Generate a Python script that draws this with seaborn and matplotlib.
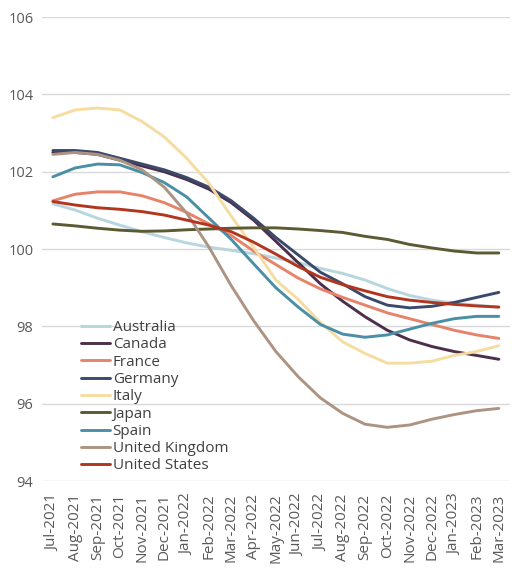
import pandas as pd
import numpy as np
import matplotlib.pyplot as plt
import seaborn as sns

months = ['Jul-2021', 'Aug-2021', 'Sep-2021', 'Oct-2021', 'Nov-2021', 'Dec-2021',
          'Jan-2022', 'Feb-2022', 'Mar-2022', 'Apr-2022', 'May-2022', 'Jun-2022',
          'Jul-2022', 'Aug-2022', 'Sep-2022', 'Oct-2022', 'Nov-2022', 'Dec-2022',
          'Jan-2023', 'Feb-2023', 'Mar-2023']

australia = [101.17, 101.01, 100.8, 100.62, 100.45, 100.3, 100.16, 100.05, 99.97, 99.88, 99.77,
             99.65, 99.5, 99.37, 99.2, 98.98, 98.8, 98.68, 98.6, 98.55, 98.5]
canada = [102.5, 102.5, 102.45, 102.3, 102.15, 102.0, 101.8, 101.55, 101.2, 100.75, 100.2,
          99.65, 99.1, 98.65, 98.25, 97.9, 97.65, 97.48, 97.35, 97.25, 97.15]
france = [101.25, 101.42, 101.48, 101.48, 101.38, 101.2, 100.95, 100.65, 100.35, 99.95, 99.6,
          99.25, 98.97, 98.75, 98.55, 98.35, 98.2, 98.05, 97.9, 97.78, 97.69]
germany = [102.55, 102.55, 102.5, 102.35, 102.2, 102.05, 101.85, 101.6, 101.25, 100.8, 100.3,
           99.85, 99.4, 99.1, 98.77, 98.55, 98.48, 98.52, 98.62, 98.75, 98.88]
italy = [103.4, 103.6, 103.65, 103.6, 103.3, 102.9, 102.35, 101.7, 100.85, 100.05, 99.2,
         98.7, 98.1, 97.6, 97.3, 97.05, 97.05, 97.1, 97.25, 97.35, 97.5]
japan = [100.65, 100.6, 100.54, 100.49, 100.46, 100.47, 100.5, 100.52, 100.54, 100.55, 100.55,
         100.52, 100.48, 100.43, 100.33, 100.25, 100.12, 100.03, 99.95, 99.9, 99.9]
spain = [101.87, 102.1, 102.2, 102.18, 101.98, 101.72, 101.35, 100.8, 100.25, 99.62, 99.0,
         98.5, 98.05, 97.8, 97.72, 97.78, 97.93, 98.08, 98.2, 98.26, 98.26]
uk = [102.45, 102.5, 102.45, 102.3, 102.05, 101.6, 100.93, 100.05, 99.05, 98.15, 97.35,
      96.7, 96.15, 95.75, 95.47, 95.39, 95.45, 95.6, 95.72, 95.82, 95.88]
us = [101.23, 101.14, 101.07, 101.03, 100.97, 100.88, 100.75, 100.62, 100.45, 100.18, 99.87,
      99.55, 99.27, 99.08, 98.92, 98.77, 98.68, 98.62, 98.57, 98.53, 98.5]

countries = ['Australia', 'Canada', 'France', 'Germany', 'Italy', 'Japan', 'Spain',
             'United Kingdom', 'United States']
colors = ['#b7d6df', '#4d2f4c', '#e7836a', '#3b4a6a', '#f5dca0', '#5b5a33', '#4a8fa6',
          '#ad9482', '#b2361d']

# long form table for seaborn
series = [australia, canada, france, germany, italy, japan, spain, uk, us]
df = pd.DataFrame({
    'country': np.repeat(countries, len(months)),
    'idx': np.tile(np.arange(len(months)), len(countries)),
    'value': np.concatenate(series),
})

sns.set_style("white")
plt.rcParams['font.family'] = ['Open Sans', 'DejaVu Sans']

fig = plt.figure(figsize=(5.22, 5.72), dpi=100)
ax = fig.add_axes([0.08, 0.159, 0.897, 0.811])

sns.lineplot(data=df, x='idx', y='value', hue='country', hue_order=countries,
             palette=colors, linewidth=2.1, ax=ax)

ax.set_xlim(-0.5, 20.5)
ax.set_ylim(94, 106)
ax.set_yticks([94, 96, 98, 100, 102, 104, 106])
ax.set_xticks(range(len(months)))
ax.set_xticklabels(months, rotation=90)
ax.tick_params(axis='y', length=0, labelsize=10.5, labelcolor='#595959', pad=6)
ax.tick_params(axis='x', length=0, labelsize=11, labelcolor='#595959', pad=9)
ax.yaxis.grid(True, color='#d9d9d9', linewidth=1)
ax.set_axisbelow(True)
for s in ax.spines.values():
    s.set_visible(False)
ax.set_xlabel('')
ax.set_ylabel('')

leg = ax.legend(loc='upper left', bbox_to_anchor=(0.07, 0.36), frameon=False,
                fontsize=11, handlelength=1.9, handletextpad=0.2, labelspacing=0.15,
                borderaxespad=0)
for t in leg.get_texts():
    t.set_color('#404040')

fig.savefig('out.png', dpi=100)
